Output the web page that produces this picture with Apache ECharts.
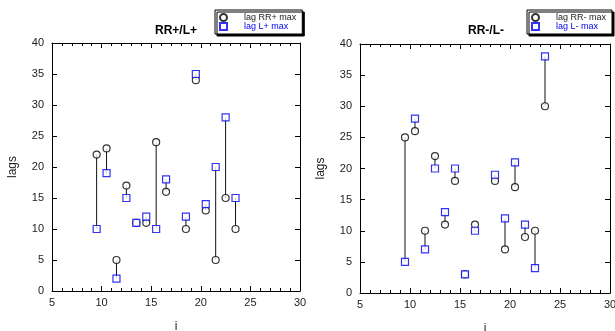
<!DOCTYPE html>
<html><head><meta charset="utf-8">
<script src="https://cdn.jsdelivr.net/npm/echarts@6/dist/echarts.min.js"></script>
<style>html,body{margin:0;padding:0;background:#fff}#c{width:615px;height:331px}</style>
</head><body><div id="c"></div>
<script>
const xPos = [9.5, 10.5, 11.5, 12.5, 13.5, 14.5, 15.5, 16.5, 18.5, 19.5, 20.5, 21.5, 22.5, 23.5];
const rrPlus = [22, 23, 5, 17, 11, 11, 24, 16, 10, 34, 13, 5, 15, 10];
const lPlus = [10, 19, 2, 15, 11, 12, 10, 18, 12, 35, 14, 20, 28, 15];
const xNeg = [9.5, 10.5, 11.5, 12.5, 13.5, 14.5, 15.5, 16.5, 18.5, 19.5, 20.5, 21.5, 22.5, 23.5];
const rrMinus = [25, 26, 10, 22, 11, 18, 3, 11, 18, 7, 17, 9, 10, 30];
const lMinus = [5, 28, 7, 20, 13, 20, 3, 10, 19, 12, 21, 11, 4, 38];
const titles = ['RR+/L+', 'RR-/L-'];
const seriesNames = [['lag RR+ max', 'lag L+ max'], ['lag RR- max', 'lag L- max']];

const font = 'Liberation Sans, Arial, sans-serif';
const grids = [
  {left: 52, top: 43, width: 248, height: 248},
  {left: 360, top: 44, width: 250, height: 249}
];
const panels = [[xPos, rrPlus, lPlus], [xNeg, rrMinus, lMinus]];

const xAxes = [], yAxes = [], series = [], legends = [], titleOpts = [];
grids.forEach((g, i) => {
  g.show = false; g.containLabel = false; g.outerBoundsMode = 'none';
  const line = {show: true, onZero: false, lineStyle: {color: '#000', width: 1}};
  const xBase = {gridIndex: i, type: 'value', min: 5, max: 30, interval: 5,
    axisLine: line, splitLine: {show: false},
    axisTick: {show: true, inside: true, length: 5, lineStyle: {color: '#000'}},
    minorTick: {show: true, splitNumber: 5, length: 3, lineStyle: {color: '#000'}}};
  xAxes.push(Object.assign({}, xBase, {position: 'bottom', name: 'i', nameLocation: 'middle', nameGap: 30,
    nameTextStyle: {fontFamily: font, fontSize: 12, color: '#222'},
    axisLabel: {fontFamily: font, fontSize: 11, color: '#222', margin: 6}}));
  xAxes.push(Object.assign({}, xBase, {position: 'top', axisLabel: {show: false}}));
  const yBase = {gridIndex: i, type: 'value', min: 0, max: 40, interval: 5,
    axisLine: line, splitLine: {show: false},
    axisTick: {show: true, inside: true, length: 5, lineStyle: {color: '#000'}}};
  yAxes.push(Object.assign({}, yBase, {position: 'left', name: 'lags', nameLocation: 'middle', nameGap: 33, nameRotate: 90,
    nameTextStyle: {fontFamily: font, fontSize: 12, color: '#222'},
    axisLabel: {fontFamily: font, fontSize: 11, color: '#222', margin: 8}}));
  yAxes.push(Object.assign({}, yBase, {position: 'right', axisLabel: {show: false}}));

  const [xs, a, b] = panels[i];
  const xi = i * 2, yi = i * 2;
  series.push({type: 'custom', xAxisIndex: xi, yAxisIndex: yi, silent: true, z: 1,
    data: xs.map((x, k) => [x, a[k], b[k]]),
    renderItem: (params, api) => {
      const p1 = api.coord([api.value(0), api.value(1)]);
      const p2 = api.coord([api.value(0), api.value(2)]);
      return {type: 'line', shape: {x1: p1[0], y1: p1[1], x2: p2[0], y2: p2[1]}, style: {stroke: '#111', lineWidth: 1}};
    }});
  series.push({type: 'scatter', name: seriesNames[i][0], xAxisIndex: xi, yAxisIndex: yi, z: 3,
    symbol: 'circle', symbolSize: 7,
    itemStyle: {color: '#fff', borderColor: '#000', borderWidth: 1.2},
    data: xs.map((x, k) => [x, a[k]])});
  series.push({type: 'scatter', name: seriesNames[i][1], xAxisIndex: xi, yAxisIndex: yi, z: 4,
    symbol: 'rect', symbolSize: 7,
    itemStyle: {color: '#fff', borderColor: '#0000ee', borderWidth: 1.2},
    data: xs.map((x, k) => [x, b[k]])});
  titleOpts.push({text: titles[i], left: (i === 0 ? 171 : 481), top: 20, textAlign: 'center',
    textStyle: {fontFamily: font, fontSize: 12, fontWeight: 'bold', color: '#000'}});
  legends.push({orient: 'vertical', left: (i === 0 ? 215 : 527), top: 10, padding: [3, 6, 3, 4],
    itemWidth: 7, itemHeight: 7, itemGap: 0, backgroundColor: '#fff',
    borderColor: '#000', borderWidth: 1, borderRadius: 0,
    shadowColor: '#000', shadowBlur: 0, shadowOffsetX: 2, shadowOffsetY: 2,
    data: [
      {name: seriesNames[i][0], textStyle: {color: '#222'}},
      {name: seriesNames[i][1], textStyle: {color: '#0000ee'}}
    ],
    textStyle: {fontFamily: font, fontSize: 9, lineHeight: 9, padding: [0, 0, 0, 12]}});
});

const chart = echarts.init(document.getElementById('c'), null, {renderer: 'canvas'});
chart.setOption({
  animation: false,
  backgroundColor: '#fff',
  title: titleOpts,
  legend: legends,
  grid: grids,
  xAxis: xAxes,
  yAxis: yAxes,
  series: series
});
</script></body></html>
